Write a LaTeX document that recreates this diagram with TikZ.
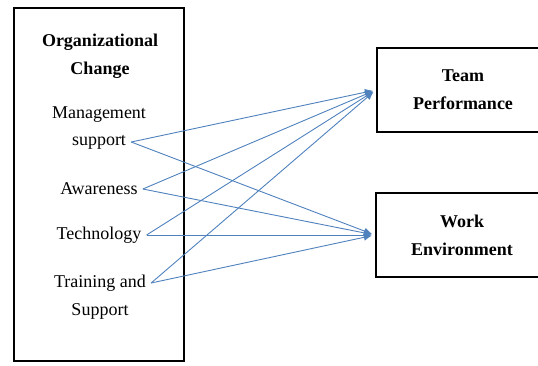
\documentclass[tikz,border=0pt]{standalone}
\usepackage{fontspec}
\setmainfont{Liberation Serif}
\usetikzlibrary{arrows.meta}
\definecolor{linkblue}{RGB}{79,129,189}
\tikzset{
	box/.style={draw=black, line width=2.4pt},
	item/.style={inner xsep=5pt, inner ysep=2pt, font=\fontsize{18}{22}\selectfont},
	head/.style={inner sep=2pt, align=center, font=\fontsize{18}{28}\selectfont\bfseries},
	link/.style={draw=linkblue, line width=0.9pt, -{Latex[length=8pt,width=7pt]}, shorten >=3pt},
}

\begin{document}
\begin{tikzpicture}[x=1pt, y=-1pt]
	\clip (0,0) rectangle (538,365);
	% Organisationswandel links
	\draw[box] (14,8) rectangle (184,361);
	\node[head] (org) at (100,56) {Organizational\\Change};
	\node[item] (mgmttop) at (99,115) {Management};
	\node[item] (mgmt) at (99,142) {support};
	\node[item] (aware) at (99,189) {Awareness};
	\node[item] (tech) at (99,235) {Technology};
	\node[item] (train) at (100,283) {Training and};
	\node[item] (trainbot) at (100,311) {Support};
	% Zielboxen rechts
	\node[box, head, minimum width=172pt, minimum height=84pt] (team) at (463,90) {Team\\Performance};
	\node[box, head, minimum width=172pt, minimum height=84pt] (work) at (462,235) {Work\\Environment};
	% Pfeile
	\foreach \src in {mgmt,aware,tech,train} {
		\draw[link] (\src.east) -- (team.west);
		\draw[link] (\src.east) -- (work.west);
	}
\end{tikzpicture}
\end{document}
